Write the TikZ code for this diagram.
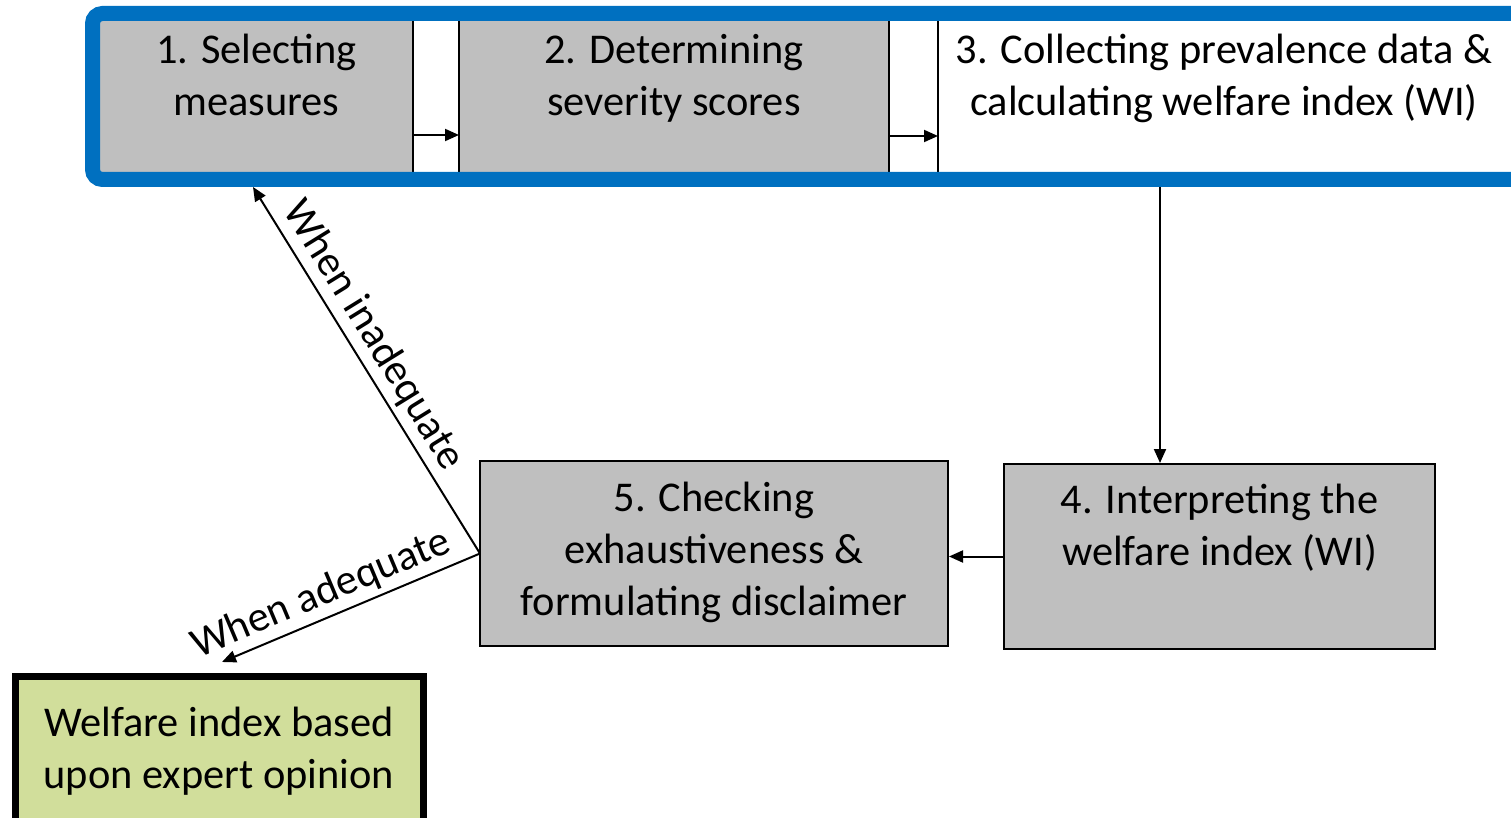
\documentclass[tikz,border=0pt]{standalone}
\usepackage{fontspec}
\setmainfont{Carlito}
\usetikzlibrary{arrows.meta}
\definecolor{boxgray}{HTML}{BFBFBF}
\definecolor{frameblue}{HTML}{0070C0}
\definecolor{wigreen}{HTML}{D1DE9B}
\begin{document}
\begin{tikzpicture}[x=0.5pt,y=-0.5pt,
  stepbox/.style={draw=black, line width=1pt, fill=boxgray, inner sep=0, outer sep=0, anchor=north west},
  lbl/.style={font=\fontsize{21.2}{26}\selectfont, align=center, inner sep=0, anchor=north},
  edgelbl/.style={font=\fontsize{21.2}{26}\selectfont, inner sep=2.5pt},
  arr/.style={-{Triangle[length=7pt,width=6pt]}, line width=1pt}]
\useasboundingbox (0,0) rectangle (1511,818);
\clip (0,0) rectangle (1511,818);
% top boxes
\node[stepbox, minimum width=158.5pt, minimum height=78.5pt] (b1) at (96,18) {};
\node[stepbox, minimum width=215pt, minimum height=78.5pt] (b2) at (459,18) {};
\node[stepbox, fill=white, minimum width=288.5pt, minimum height=78.5pt] (b3) at (938,18) {};
\node[lbl] (t1) at (256.5,34) {1. Selecting\\measures};
\node[lbl] (t2) at (674,34) {2. Determining\\severity scores};
\node[lbl] (t3) at (1224,34) {3. Collecting prevalence data \&\\calculating welfare index (WI)};
% frame
\draw[frameblue, line width=7.5pt, rounded corners=5pt] (92.5,13.5) rectangle (1540,179.5);
% lower boxes
\node[stepbox, minimum width=215.5pt, minimum height=92.5pt] (b4) at (1004,464) {};
\node[stepbox, minimum width=234pt, minimum height=92.5pt] (b5) at (480,461) {};
\node[stepbox, draw=black, line width=3.5pt, fill=wigreen, minimum width=203.75pt, minimum height=80pt] (g) at (15.5,676) {};
\node[lbl] (t4) at (1219.5,484) {4. Interpreting the\\welfare index (WI)};
\node[lbl] (t5) at (714,482) {5. Checking\\exhaustiveness \&\\formulating disclaimer};
\node[lbl] (tg) at (219,707) {Welfare index based\\upon expert opinion};
% connectors
\draw[arr] ([yshift=20pt]b1.south east) -- ([yshift=20pt]b2.south west);
\draw[arr] ([yshift=19.5pt]b2.south east) -- ([yshift=19.5pt]b3.south west);
\coordinate (c3) at ([xshift=111pt]b3.south west);
\draw[arr] ([yshift=-6pt]c3) -- ([yshift=0.5pt]c3 |- b4.north);
\draw[arr] (b4.west) -- ([xshift=0.5pt]b4.west -| b5.east);
\coordinate (fb) at (253,187);
\coordinate (ga) at (222,662);
\draw[arr] (b5.west) -- node[edgelbl, sloped, above, pos=0.56] {When inadequate} (fb);
\draw[arr] (b5.west) -- node[edgelbl, sloped, above, pos=0.58] {When adequate} (ga);
\end{tikzpicture}
\end{document}
